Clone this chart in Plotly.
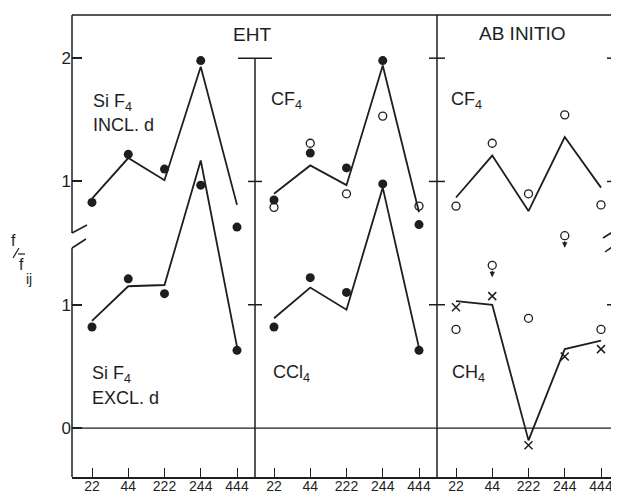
import plotly.graph_objects as go

# ---------------- data ----------------
tick_labels = ["22", "44", "222", "244", "444"]
positions = [0, 1, 2, 3, 4]
UPPER_OFFSET = 1.0  # upper curves are drawn on a scale shifted up by one unit

y_tick_vals = [0, 1, 2, 3]
y_tick_text = ["0", "1", "1", "2"]

# EHT, SiF4 including d (upper)
sif4_incl_pts = [0.83, 1.22, 1.10, 1.98, 0.63]
sif4_incl_line = [0.86, 1.19, 1.01, 1.93, 0.81]
# EHT, SiF4 excluding d (lower)
sif4_excl_pts = [0.82, 1.21, 1.09, 1.97, 0.63]
sif4_excl_line = [0.87, 1.15, 1.16, 2.17, 0.66]
# EHT, CF4 (upper)
cf4_eht_pts = [0.85, 1.23, 1.11, 1.98, 0.65]
cf4_eht_open = [0.79, 1.31, 0.90, 1.53, 0.80]
cf4_eht_line = [0.90, 1.13, 0.97, 1.94, 0.75]
# EHT, CCl4 (lower)
ccl4_pts = [0.82, 1.22, 1.10, 1.98, 0.63]
ccl4_line = [0.89, 1.14, 0.96, 1.95, 0.65]
# Ab initio, CF4 (upper)
cf4_ab_open = [0.80, 1.31, 0.90, 1.54, 0.81]
cf4_ab_line = [0.87, 1.21, 0.76, 1.36, 0.95]
# Ab initio, CH4 (lower)
ch4_cross = [0.98, 1.07, -0.14, 0.58, 0.64]
ch4_open = [0.80, None, 0.89, None, 0.80]
ch4_open_arrow = [None, 1.32, None, 1.56, None]
ch4_line = [1.03, 1.00, -0.10, 0.64, 0.71]

# ---------------- layout geometry ----------------
# the page body has an 8px margin, so the figure is shifted by OFF on screen
OFF = 8
SCREEN_W, SCREEN_H = 619, 497
W, H = SCREEN_W - OFF, SCREEN_H - OFF
L_SCR, T_SCR, B_SCR, R_SCR = 72, 15, 477, 619
ML, MT = L_SCR - OFF, T_SCR - OFF
MB = H - (B_SCR - OFF)
MR = 0
PW, PH = W - ML - MR, H - MT - MB
INK = "#1e1e1e"
FONT = "Liberation Sans"


def px(xs):
    """screen x pixel -> paper"""
    return (xs - L_SCR) / PW


def py(ys):
    """screen y pixel -> paper"""
    return (B_SCR - ys) / PH


dom1 = [0, px(255)]
dom2 = [px(255), px(437)]
dom3 = [px(437), 1]
step = 36.25
xr1 = [-20 / step, -20 / step + 183 / step]
xr2 = [-19 / step, -19 / step + 182 / step]
xr3 = [-19 / step, -19 / step + 182 / step]

fig = go.Figure()


def up(vals):
    return [None if v is None else v + UPPER_OFFSET for v in vals]


def line(xa, vals):
    fig.add_trace(go.Scatter(x=positions, y=vals, xaxis=xa, yaxis="y", mode="lines",
                             line=dict(color=INK, width=1.8), showlegend=False, hoverinfo="skip"))


def filled(xa, vals):
    fig.add_trace(go.Scatter(x=positions, y=vals, xaxis=xa, yaxis="y", mode="markers",
                             marker=dict(symbol="circle", size=9, color=INK), showlegend=False))


def opened(xa, vals):
    fig.add_trace(go.Scatter(x=positions, y=vals, xaxis=xa, yaxis="y", mode="markers",
                             marker=dict(symbol="circle-open", size=8, color=INK, line=dict(width=1.3)),
                             showlegend=False))


def crosses(xa, vals):
    fig.add_trace(go.Scatter(x=positions, y=vals, xaxis=xa, yaxis="y", mode="markers",
                             marker=dict(symbol="x-thin-open", size=8, color=INK, line=dict(width=1.5, color=INK)),
                             showlegend=False))


# panel 1
line("x", up(sif4_incl_line))
filled("x", up(sif4_incl_pts))
line("x", sif4_excl_line)
filled("x", sif4_excl_pts)
# panel 2
line("x2", up(cf4_eht_line))
filled("x2", up(cf4_eht_pts))
opened("x2", up(cf4_eht_open))
line("x2", ccl4_line)
filled("x2", ccl4_pts)
# panel 3
line("x3", up(cf4_ab_line))
opened("x3", up(cf4_ab_open))
line("x3", ch4_line)
crosses("x3", ch4_cross)
opened("x3", ch4_open)
opened("x3", ch4_open_arrow)

annotations = []
for i, v in zip(positions, ch4_open_arrow):
    if v is None:
        continue
    annotations.append(dict(x=i, y=v - 0.097, xref="x3", yref="y", ax=0, ay=-8, text="",
                            showarrow=True, arrowhead=2, arrowsize=0.9, arrowwidth=1.2, arrowcolor=INK))


def text(t, xs, ys, size=17, anchor="left"):
    annotations.append(dict(text=t, x=px(xs), y=py(ys), xref="paper", yref="paper", showarrow=False,
                            xanchor=anchor, yanchor="middle", font=dict(family=FONT, size=size, color=INK)))


text("EHT", 252, 35, 19, "center")
text("AB INITIO", 522, 34, 19, "center")
text("Si F<sub>4</sub>", 91, 102, 18)
text("INCL. d", 91, 125, 18)
text("Si F<sub>4</sub>", 90, 374, 18)
text("EXCL. d", 90, 398, 18)
text("CF<sub>4</sub>", 269, 100, 18)
text("CCl<sub>4</sub>", 271, 373, 18)
text("CF<sub>4</sub>", 449, 100, 18)
text("CH<sub>4</sub>", 450, 373, 18)
# y label f / f̄ij
text("f", 9, 240, 16)
text("f", 17, 264, 16)
text("ij", 24, 279, 14)

shapes = []


def seg(x0, y0, x1, y1, w=1.5):
    shapes.append(dict(type="line", xref="paper", yref="paper", x0=px(x0), y0=py(y0), x1=px(x1), y1=py(y1),
                       line=dict(color=INK, width=w)))


# y label slash and bar
seg(13, 258, 19, 248, 1.2)
seg(18, 254, 25, 254, 1.2)
# frame
seg(72, 15, 619, 15)
seg(72, 15, 72, 233)
seg(72, 248, 72, 477)
seg(72, 233, 87, 225)
seg(72, 248, 86, 239)
seg(603, 238, 619, 228)
seg(605, 252, 619, 242)
# zero line
shapes.append(dict(type="line", xref="paper", yref="y", x0=0, x1=1, y0=0, y1=0,
                   line=dict(color=INK, width=1.3)))
# dividers
shapes.append(dict(type="line", xref="paper", yref="y", x0=px(255), x1=px(255), y0=y_tick_vals[-1], y1=-0.4,
                   line=dict(color=INK, width=1.5)))
seg(437, 15, 437, 477)
# divider ticks
for v in y_tick_vals[1:]:
    half = 17 if v == y_tick_vals[-1] else 7
    shapes.append(dict(type="line", xref="paper", yref="y", x0=px(255 - half), x1=px(255 + half), y0=v, y1=v,
                       line=dict(color=INK, width=1.5)))
    shapes.append(dict(type="line", xref="paper", yref="y", x0=px(429), x1=px(445), y0=v, y1=v,
                       line=dict(color=INK, width=1.5)))
    shapes.append(dict(type="line", xref="paper", yref="y", x0=px(607), x1=1, y0=v, y1=v,
                       line=dict(color=INK, width=1.5)))

xcommon = dict(tickvals=positions, ticktext=tick_labels, ticks="inside", ticklen=9, tickwidth=1.3,
               tickcolor=INK, showline=True, linecolor=INK, linewidth=1.5, showgrid=False, zeroline=False,
               anchor="y", tickfont=dict(family=FONT, size=14, color=INK), fixedrange=True,
               ticklabelstandoff=-5)

fig.update_layout(
    width=W, height=H,
    margin=dict(l=ML, r=MR, t=MT, b=MB, autoexpand=False),
    paper_bgcolor="white", plot_bgcolor="white",
    xaxis=dict(domain=dom1, range=xr1, **xcommon),
    xaxis2=dict(domain=dom2, range=xr2, **xcommon),
    xaxis3=dict(domain=dom3, range=xr3, **xcommon),
    yaxis=dict(range=[-0.397, 3.35], tickvals=y_tick_vals, ticktext=y_tick_text, ticks="inside", ticklen=10,
               tickwidth=1.5, tickcolor=INK, showline=False, showgrid=False, zeroline=False, anchor="x",
               tickfont=dict(family=FONT, size=17, color=INK), fixedrange=True),
    annotations=annotations,
    shapes=shapes,
    showlegend=False,
)

fig.write_html("out.html")
